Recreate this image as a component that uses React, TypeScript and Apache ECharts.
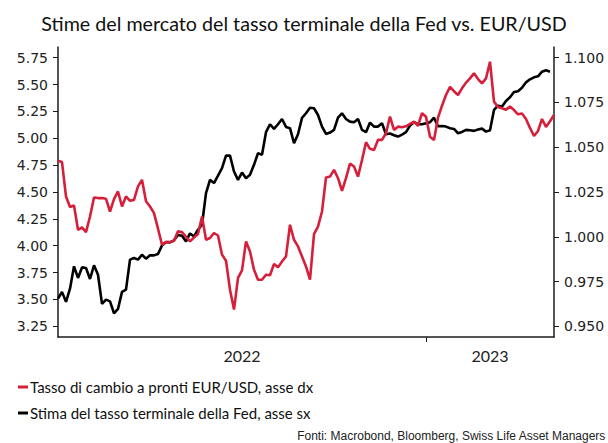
import React, { useEffect, useRef } from "react";
import * as echarts from "echarts";

// Sampling: one point every 2 calendar days from 1 July 2022
const START_DATE = "2022-07-01";
const STEP_DAYS = 2;

// Fed terminal rate estimate (left axis, %)
const fedTerminal = [
  3.507, 3.57, 3.477, 3.6, 3.808, 3.7, 3.798, 3.793, 3.69, 3.817,
  3.73, 3.458, 3.498, 3.482, 3.371, 3.412, 3.57, 3.591, 3.87, 3.885,
  3.87, 3.916, 3.879, 3.91, 3.91, 3.923, 4.003, 4.034, 4.031, 4.05,
  4.1, 4.093, 4.04, 4.114, 4.086, 4.149, 4.195, 4.49, 4.613, 4.583,
  4.653, 4.722, 4.839, 4.839, 4.691, 4.613, 4.681, 4.629, 4.66, 4.753,
  4.862, 4.846, 5.057, 5.131, 5.087, 5.131, 5.18, 5.106, 5.094, 4.954,
  5.038, 5.19, 5.233, 5.285, 5.28, 5.217, 5.109, 5.041, 5.053, 5.078,
  5.192, 5.233, 5.18, 5.155, 5.15, 5.18, 5.078, 5.057, 5.146, 5.109,
  5.109, 5.14, 5.038, 5.044, 5.029, 5.016, 5.035, 5.057, 5.118, 5.15,
  5.131, 5.131, 5.14, 5.15, 5.192, 5.112, 5.115, 5.109, 5.094, 5.087,
  5.047, 5.059, 5.078, 5.075, 5.069, 5.081, 5.09, 5.062, 5.075, 5.264,
  5.304, 5.295, 5.348, 5.382, 5.431, 5.438, 5.471, 5.521, 5.549, 5.568,
  5.577, 5.62, 5.633, 5.62,
];

// EUR/USD spot (right axis)
const eurUsd = [
  1.0424, 1.0417, 1.0225, 1.0166, 1.0175, 1.0039, 1.0052, 1.0026, 1.0113, 1.0219,
  1.0216, 1.0216, 1.0212, 1.0141, 1.021, 1.0253, 1.0169, 1.0225, 1.0201, 1.0206,
  1.0281, 1.0318, 1.0198, 1.0169, 1.0132, 1.0045, 0.9955, 0.997, 0.997, 0.9978,
  1.003, 1.0026, 1.0, 0.9974, 0.9996, 1.0015, 1.0113, 0.9983, 0.9993, 1.0021,
  1.0007, 0.99, 0.9866, 0.9704, 0.9593, 0.977, 0.9812, 0.9974, 0.9918, 0.9816,
  0.976, 0.976, 0.9788, 0.9785, 0.9848, 0.9829, 0.9862, 0.989, 1.0067, 0.9983,
  0.9946, 0.989, 0.9834, 0.976, 1.0015, 1.0057, 1.0141, 1.0331, 1.0336, 1.0374,
  1.0327, 1.0257, 1.0327, 1.0409, 1.0392, 1.0336, 1.0429, 1.0528, 1.0491, 1.0485,
  1.0541, 1.0541, 1.0578, 1.0671, 1.0597, 1.0615, 1.0612, 1.0617, 1.063, 1.0643,
  1.062, 1.069, 1.067, 1.0559, 1.054, 1.0665, 1.0732, 1.0792, 1.0837, 1.0813,
  1.0792, 1.0829, 1.0861, 1.0885, 1.0913, 1.0881, 1.0857, 1.0885, 1.0978, 1.0755,
  1.0725, 1.0718, 1.071, 1.0727, 1.0708, 1.0684, 1.0688, 1.0658, 1.0608, 1.0563,
  1.0591, 1.0658, 1.0613, 1.0645, 1.068,
];

const leftTicks = [3.25, 3.5, 3.75, 4.0, 4.25, 4.5, 4.75, 5.0, 5.25, 5.5, 5.75];
const rightTicks = [0.95, 0.975, 1.0, 1.025, 1.05, 1.075, 1.1];

const TITLE = "Stime del mercato del tasso terminale della Fed vs. EUR/USD";
const NAME_FX = "Tasso di cambio a pronti EUR/USD, asse dx";
const NAME_FED = "Stima del tasso terminale della Fed, asse sx";
const SOURCE = "Fonti: Macrobond, Bloomberg, Swiss Life Asset Managers";

const N_POINTS = Math.max(fedTerminal.length, eurUsd.length);
const dates: string[] = [];
{
  const t0 = Date.parse(START_DATE + "T00:00:00Z");
  for (let i = 0; i < N_POINTS; i++) {
    dates.push(new Date(t0 + i * STEP_DAYS * 86400000).toISOString().slice(0, 10));
  }
}
const firstIdx2023 = dates.findIndex((d) => d.startsWith("2023"));
const labelIdx = [
  Math.round(firstIdx2023 / 2),
  Math.round((firstIdx2023 + dates.length - 1) / 2),
];

const RED = "#d61f3a";
const AXIS = "#1c1c1c";

export default function App() {
  const ref = useRef<HTMLDivElement>(null);
  useEffect(() => {
    if (!ref.current) return;
    const chart = echarts.init(ref.current, undefined, { renderer: "svg" });
    chart.setOption({
      animation: false,
      backgroundColor: "#ffffff",
      title: [
        {
          text: TITLE,
          left: "center",
          top: 8,
          textStyle: { fontFamily: "Lato", fontSize: 19.7, fontWeight: "normal", color: "#111" },
        },
        {
          text: SOURCE,
          right: 2,
          top: 429,
          padding: 0,
          textStyle: { fontFamily: "Liberation Sans", fontSize: 12, fontWeight: "normal", color: "#222", lineHeight: 13 },
        },
      ],
      legend: {
        orient: "vertical",
        left: 18,
        top: 378,
        padding: 0,
        itemGap: 8,
        itemWidth: 10,
        itemHeight: 3,
        icon: "rect",
        data: [NAME_FX, NAME_FED],
        textStyle: { fontFamily: "Lato", fontSize: 15, color: "#111", lineHeight: 18, padding: [0, 0, 0, -3] },
      },
      grid: { left: 58, right: 54, top: 47, bottom: 106, containLabel: false },
      xAxis: {
        type: "category",
        data: dates,
        boundaryGap: false,
        axisLine: { onZero: false, lineStyle: { color: AXIS, width: 1.5 } },
        axisTick: {
          show: true,
          length: 5,
          interval: (i: number) => i === firstIdx2023,
          lineStyle: { color: AXIS, width: 1 },
        },
        axisLabel: {
          interval: (i: number) => labelIdx.includes(i),
          formatter: (v: string) => v.slice(0, 4),
          fontFamily: "Lato",
          fontSize: 16,
          color: "#222",
          margin: 10,
        },
        splitLine: { show: false },
      },
      yAxis: [
        {
          type: "value",
          position: "left",
          min: 3.15,
          max: 5.85,
          axisLine: { show: true, lineStyle: { color: AXIS, width: 1.5 } },
          axisTick: { show: true, length: 5, customValues: leftTicks, lineStyle: { color: AXIS } },
          axisLabel: {
            customValues: leftTicks,
            formatter: (v: number) => v.toFixed(2),
            fontFamily: "DejaVu Sans",
            fontSize: 14,
            color: "#222",
            margin: 10,
          },
          splitLine: { show: false },
        },
        {
          type: "value",
          position: "right",
          min: 0.944,
          max: 1.106,
          axisLine: { show: true, lineStyle: { color: AXIS, width: 1.5 } },
          axisTick: { show: true, length: 5, customValues: rightTicks, lineStyle: { color: AXIS } },
          axisLabel: {
            customValues: rightTicks,
            formatter: (v: number) => v.toFixed(3),
            fontFamily: "DejaVu Sans",
            fontSize: 14,
            color: "#222",
            margin: 10,
          },
          splitLine: { show: false },
        },
      ],
      series: [
        {
          name: NAME_FED,
          type: "line",
          yAxisIndex: 0,
          data: fedTerminal,
          showSymbol: false,
          symbol: "none",
          lineStyle: { color: "#000", width: 2.6 },
          itemStyle: { color: "#000" },
        },
        {
          name: NAME_FX,
          type: "line",
          yAxisIndex: 1,
          data: eurUsd,
          showSymbol: false,
          symbol: "none",
          lineStyle: { color: RED, width: 2.6 },
          itemStyle: { color: RED },
        },
      ],
    });
    return () => chart.dispose();
  }, []);
  return (
    <div
      ref={ref}
      style={{ position: "fixed", left: 0, top: 0, width: 608, height: 443, background: "#fff" }}
    />
  );
}
